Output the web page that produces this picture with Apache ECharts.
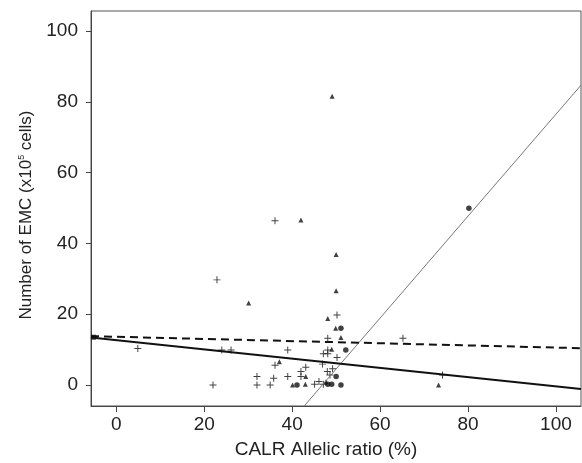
<!DOCTYPE html>
<html>
<head>
<meta charset="utf-8">
<script src="https://cdn.jsdelivr.net/npm/echarts@6/dist/echarts.min.js"></script>
<style>
html,body{margin:0;padding:0;background:#fff;}
#chart{width:582px;height:463px;}
</style>
</head>
<body>
<div id="chart"></div>
<script>
// ---- data ----
var xTicks = [0, 20, 40, 60, 80, 100];
var yTicks = [0, 20, 40, 60, 80, 100];

var crossX = [36.1, 22.9, 50.2, 48.1, 24.0, 26.1, 39.0, 48.1, 47.1, 48.1, 50.2, 36.1, 46.9, 43.1, 42.0, 48.0, 49.2, 32.0, 35.8, 39.0, 42.0, 48.6, 22.0, 32.0, 35.0, 45.1, 46.1, 47.1, 4.9, 65.2, 74.2];
var crossY = [46.4, 29.7, 19.8, 13.2, 9.9, 9.9, 9.9, 9.9, 8.8, 8.8, 7.8, 5.6, 5.9, 5.0, 3.8, 3.8, 4.6, 2.4, 1.9, 2.4, 2.4, 2.8, 0.0, 0.0, 0.0, 0.2, 1.0, 0.2, 10.3, 13.2, 2.8];

var triX = [42.0, 50.0, 30.1, 50.0, 48.1, 49.9, 51.1, 49.0, 37.1, 43.1, 40.1, 43.0, 49.1, 73.3, 47.7];
var triY = [46.6, 36.9, 23.2, 26.6, 18.8, 16.0, 13.4, 10.1, 6.6, 2.4, 0.0, 0.2, 81.6, 0.0, 0.9];

var dotX = [51.1, 52.2, 50.0, 41.1, 48.1, 49.0, 51.1, 80.2];
var dotY = [16.0, 9.9, 2.4, 0.0, 0.2, 0.2, 0.0, 49.9];

var squareX = [-5.2];
var squareY = [13.5];

// regression lines (end points in data units)
var solidLineX = [-5.75, 105.7];
var solidLineY = [13.4, -1.1];
var dashedLineX = [-5.75, 105.7];
var dashedLineY = [13.8, 10.4];
var thinLineX = [42.7, 105.7];
var thinLineY = [-6.0, 84.7];

var xTitle = 'CALR Allelic ratio (%)';

function pairs(xs, ys) {
  var out = [];
  for (var i = 0; i < xs.length; i++) out.push([xs[i], ys[i]]);
  return out;
}

var FONT = '"Liberation Sans", Arial, sans-serif';
var chart = echarts.init(document.getElementById('chart'), null, {renderer: 'canvas'});
var crossPath = 'path://M4.3,0h1.4v10h-1.4zM0,4.3h10v1.4h-10z';

chart.setOption({
  animation: false,
  backgroundColor: '#fff',
  grid: {left: 91, top: 11, width: 490, height: 395, show: true, borderColor: '#555', borderWidth: 1, backgroundColor: 'transparent'},
  xAxis: {
    type: 'value', min: -5.75, max: 105.7,
    splitLine: {show: false},
    axisLine: {show: true, onZero: false, lineStyle: {color: '#444', width: 1}},
    axisTick: {show: true, inside: false, length: 6, lineStyle: {color: '#444'}, customValues: xTicks},
    axisLabel: {show: true, margin: 9, color: '#222', fontSize: 19, fontFamily: FONT, customValues: xTicks}
  },
  yAxis: {
    type: 'value', min: -5.93, max: 105.65,
    splitLine: {show: false},
    axisLine: {show: true, onZero: false, lineStyle: {color: '#444', width: 1}},
    axisTick: {show: true, inside: false, length: 5, lineStyle: {color: '#444'}, customValues: yTicks},
    axisLabel: {show: true, margin: 13, color: '#222', fontSize: 19, fontFamily: FONT, customValues: yTicks}
  },
  graphic: [
    {type: 'text', x: 326, y: 450, style: {text: xTitle, fill: '#222', font: '19px ' + FONT, textAlign: 'center', textVerticalAlign: 'middle'}},
    {type: 'text', x: 26, y: 215, rotation: Math.PI / 2,
     style: {rich: {n: {fontSize: 17, fontFamily: FONT, fill: '#222'}, s: {fontSize: 9, fontFamily: FONT, fill: '#222', verticalAlign: 'top', padding: [0, 0, 8, 0]}},
             text: '{n|Number of EMC (x10}{s|5}{n| cells)}', textAlign: 'center', textVerticalAlign: 'middle'}}
  ],
  series: [
    {type: 'line', data: pairs(thinLineX, thinLineY), symbol: 'none', lineStyle: {color: '#777', width: 1}, clip: true, silent: true},
    {type: 'line', data: pairs(dashedLineX, dashedLineY), symbol: 'none', lineStyle: {color: '#111', width: 2, type: [8, 5]}, clip: true, silent: true},
    {type: 'line', data: pairs(solidLineX, solidLineY), symbol: 'none', lineStyle: {color: '#111', width: 2}, clip: true, silent: true},
    {type: 'scatter', data: pairs(crossX, crossY), symbol: crossPath, symbolSize: 7, itemStyle: {color: '#111'}},
    {type: 'scatter', data: pairs(triX, triY), symbol: 'triangle', symbolSize: 5, itemStyle: {color: '#111'}},
    {type: 'scatter', data: pairs(dotX, dotY), symbol: 'circle', symbolSize: 5.5, itemStyle: {color: '#111'}},
    {type: 'scatter', data: pairs(squareX, squareY), symbol: 'rect', symbolSize: 5, itemStyle: {color: '#111'}}
  ]
});
</script>
</body>
</html>
